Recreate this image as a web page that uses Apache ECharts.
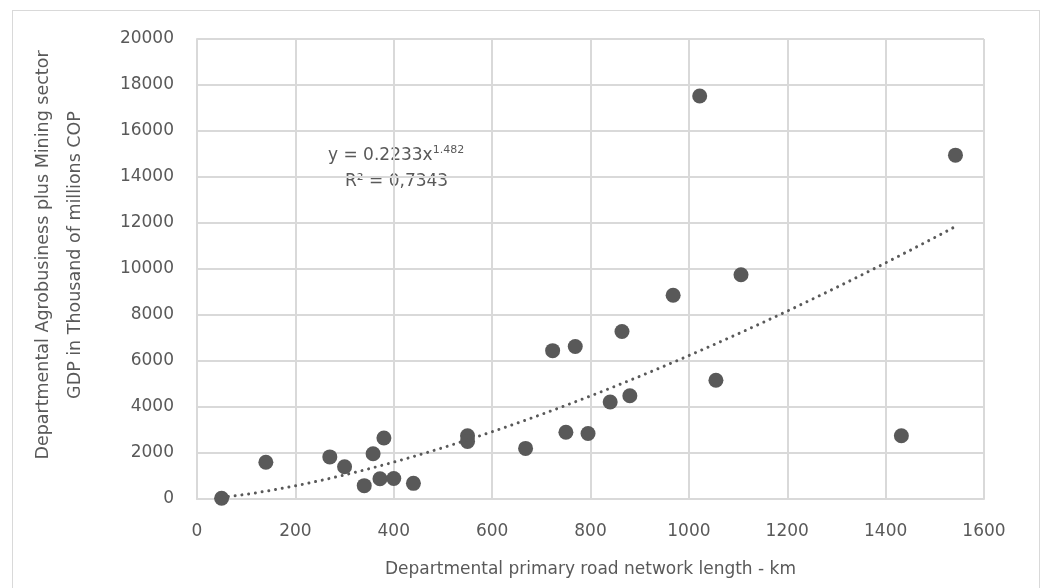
<!DOCTYPE html>
<html>
<head>
<meta charset="utf-8">
<script src="https://cdn.jsdelivr.net/npm/echarts@6/dist/echarts.min.js"></script>
<style>
html,body{margin:0;padding:0;background:#fff;}
#frame{position:absolute;left:12px;top:10px;width:1028px;height:600px;border:1px solid #d9d9d9;box-sizing:border-box;}
#chart{position:absolute;left:0;top:0;width:1048px;height:588px;}
</style>
</head>
<body>
<div id="frame"></div>
<div id="chart"></div>
<script>
// Data
const roadLengthKm = [50, 140, 270, 300, 358, 380, 340, 372, 400, 440, 550, 550,
  668, 750, 795, 840, 880, 1055, 723, 769, 864, 1022, 1542, 1106, 968, 1432];
const gdpValues = [30, 1600, 1830, 1400, 1970, 2650, 580, 880, 890, 680, 2750, 2500,
  2200, 2900, 2850, 4220, 4490, 5160, 6450, 6630, 7280, 17520, 14950, 9750, 8860, 2750];
const xTicks = [0, 200, 400, 600, 800, 1000, 1200, 1400, 1600];
const yTicks = [0, 2000, 4000, 6000, 8000, 10000, 12000, 14000, 16000, 18000, 20000];
// Trendline as printed on the chart: y = 0.2233 x^1.482
const trendCoef = 0.2233;
const trendExp = 1.482;
const trendLabel1 = 'y = 0.2233x';
const trendLabelExp = '1.482';
const trendLabel2 = 'R² = 0,7343';
const xTitle = 'Departmental primary road network length - km';
const yTitle = 'Departmental Agrobusiness plus Mining sector\nGDP in Thousand of millions COP';

const scatterData = roadLengthKm.map((x, i) => [x, gdpValues[i]]);
const xMinData = Math.min(...roadLengthKm), xMaxData = Math.max(...roadLengthKm);
const trendData = [];
for (let x = xMinData; x <= xMaxData; x += 4) trendData.push([x, trendCoef * Math.pow(x, trendExp)]);
trendData.push([xMaxData, trendCoef * Math.pow(xMaxData, trendExp)]);

const chart = echarts.init(document.getElementById('chart'), null, {renderer: 'canvas'});
const font = 'DejaVu Sans';
const grey = '#595959';
const gridCol = '#d9d9d9';
chart.setOption({
  animation: false,
  textStyle: {fontFamily: font},
  grid: {left: 197, right: 64, top: 39, bottom: 89, show: false, containLabel: false, outerBoundsMode: 'none'},
  xAxis: {
    type: 'value', min: xTicks[0], max: xTicks[xTicks.length - 1], interval: 200,
    axisLine: {show: true, lineStyle: {color: gridCol, width: 2}},
    axisTick: {show: false},
    splitLine: {show: true, lineStyle: {color: gridCol, width: 2}},
    axisLabel: {color: grey, fontSize: 17, fontFamily: font, margin: 24, formatter: v => String(v)},
    name: xTitle, nameLocation: 'middle', nameGap: 62,
    nameTextStyle: {color: grey, fontSize: 17, fontFamily: font}
  },
  yAxis: {
    type: 'value', min: yTicks[0], max: yTicks[yTicks.length - 1], interval: 2000,
    axisLine: {show: true, lineStyle: {color: gridCol, width: 2}},
    axisTick: {show: false},
    splitLine: {show: true, lineStyle: {color: gridCol, width: 2}},
    axisLabel: {color: grey, fontSize: 17, fontFamily: font, margin: 23, formatter: v => String(v)},
    name: yTitle, nameLocation: 'middle', nameGap: 106, nameRotate: 90,
    nameTextStyle: {color: grey, fontSize: 17.5, fontFamily: font, lineHeight: 32, align: 'center',
      padding: [0, 0, 0, 28]}
  },
  series: [
    {
      type: 'scatter', data: scatterData, symbol: 'circle', symbolSize: 15,
      itemStyle: {color: grey, opacity: 1}, z: 2
    },
    {
      type: 'line', data: trendData, showSymbol: false, symbol: 'none', smooth: false,
      lineStyle: {color: grey, width: 3, type: [0.01, 6.8], cap: 'round'}, z: 3
    }
  ],
  graphic: [
    {type: 'text', left: 328, top: 145, style: {
      rich: {
        b: {fontSize: 17, fontFamily: font, fill: grey},
        s: {fontSize: 11, fontFamily: font, fill: grey, verticalAlign: 'top', padding: [0, 0, 10, 0]}
      },
      text: '{b|' + trendLabel1 + '}{s|' + trendLabelExp + '}', fill: grey
    }},
    {type: 'text', left: 345, top: 173, style: {text: trendLabel2, fontSize: 17, fontFamily: font, fill: grey}}
  ]
});
</script>
</body>
</html>
